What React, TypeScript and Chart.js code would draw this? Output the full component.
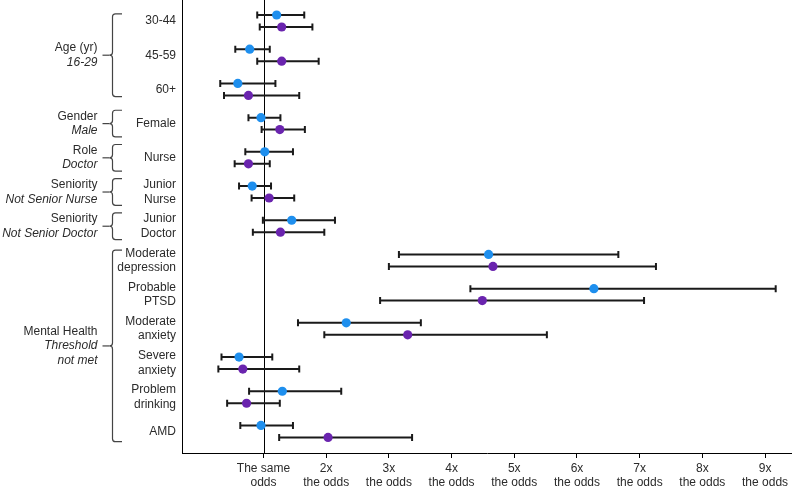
import React, { useEffect, useRef } from "react";
import { Chart, registerables } from "chart.js";

Chart.register(...registerables);

// ---------- data ----------
const categories: string[][] = [
  ["30-44"],
  ["45-59"],
  ["60+"],
  ["Female"],
  ["Nurse"],
  ["Junior", "Nurse"],
  ["Junior", "Doctor"],
  ["Moderate", "depression"],
  ["Probable", "PTSD"],
  ["Moderate", "anxiety"],
  ["Severe", "anxiety"],
  ["Problem", "drinking"],
  ["AMD"],
];

const blueEst = [1.21, 0.78, 0.59, 0.96, 1.02, 0.82, 1.45, 4.59, 6.27, 2.32, 0.61, 1.3, 0.96];
const blueLow = [0.9, 0.55, 0.31, 0.76, 0.71, 0.61, 0.99, 3.16, 4.3, 1.55, 0.33, 0.77, 0.63];
const blueHigh = [1.65, 1.1, 1.19, 1.27, 1.47, 1.12, 2.14, 6.66, 9.17, 3.51, 1.14, 2.24, 1.47];

const purpleEst = [1.29, 1.29, 0.76, 1.26, 0.76, 1.09, 1.27, 4.66, 4.49, 3.3, 0.67, 0.73, 2.03];
const purpleLow = [0.94, 0.9, 0.37, 0.97, 0.54, 0.81, 0.83, 3.0, 2.86, 1.97, 0.28, 0.42, 1.25];
const purpleHigh = [1.78, 1.88, 1.57, 1.66, 1.1, 1.49, 1.97, 7.26, 7.07, 5.52, 1.57, 1.26, 3.37];

const xTickValues = [1, 2, 3, 4, 5, 6, 7, 8, 9];
const xTickLabels: string[][] = [
  ["The same", "odds"],
  ["2x", "the odds"],
  ["3x", "the odds"],
  ["4x", "the odds"],
  ["5x", "the odds"],
  ["6x", "the odds"],
  ["7x", "the odds"],
  ["8x", "the odds"],
  ["9x", "the odds"],
];

const groupNames = ["Age (yr)", "Gender", "Role", "Seniority", "Seniority", "Mental Health"];
const groupRefs: string[][] = [
  ["16-29"],
  ["Male"],
  ["Doctor"],
  ["Not Senior Nurse"],
  ["Not Senior Doctor"],
  ["Threshold", "not met"],
];
const groupStart = [0, 3, 4, 5, 6, 7];
const groupEnd = [2, 3, 4, 5, 6, 12];

// ---------- styles ----------
const BLUE = "#1E8FEE";
const PURPLE = "#6A24AE";
const TEXT = "#2b2b2b";
const FONT = "'Liberation Sans', Arial, Helvetica, sans-serif";
const ROW_OFFSET = 0.175;

const refLinePlugin = {
  id: "refLine",
  beforeDatasetsDraw(chart: any) {
    const { ctx, chartArea, scales } = chart;
    const x = Math.round(scales.x.getPixelForValue(1)) + 0.5;
    ctx.save();
    ctx.strokeStyle = "#000";
    ctx.lineWidth = 1;
    ctx.beginPath();
    ctx.moveTo(x, chartArea.top);
    ctx.lineTo(x, chartArea.bottom);
    ctx.stroke();
    // error bars
    ctx.strokeStyle = "#1a1a1a";
    ctx.lineWidth = 2;
    chart.data.datasets.forEach((ds: any) => {
      ds.data.forEach((pt: any, i: number) => {
        const yy = scales.y.getPixelForValue(pt.y);
        const x0 = scales.x.getPixelForValue(ds.low[i]);
        const x1 = scales.x.getPixelForValue(ds.high[i]);
        ctx.beginPath();
        ctx.moveTo(x0, yy);
        ctx.lineTo(x1, yy);
        ctx.moveTo(x0, yy - 3.5);
        ctx.lineTo(x0, yy + 3.5);
        ctx.moveTo(x1, yy - 3.5);
        ctx.lineTo(x1, yy + 3.5);
        ctx.stroke();
      });
    });
    ctx.restore();
  },
};

const bracePlugin = {
  id: "braces",
  afterDraw(chart: any) {
    const { ctx, scales } = chart;
    const y = scales.y;
    ctx.save();
    for (let g = 0; g < groupNames.length; g++) {
      const count = groupEnd[g] - groupStart[g] + 1;
      const pad = count === 1 ? 0.39 : count > 3 ? 0.3 : 0.21;
      const top = y.getPixelForValue(groupStart[g] - pad);
      const bot = y.getPixelForValue(groupEnd[g] + pad);
      const mid = (y.getPixelForValue(groupStart[g]) + y.getPixelForValue(groupEnd[g])) / 2;
      const bx = 112.5;
      const armX = 122;
      const r = 3;
      ctx.strokeStyle = "#444";
      ctx.lineWidth = 1.2;
      ctx.beginPath();
      ctx.moveTo(armX, top);
      ctx.lineTo(bx + r, top);
      ctx.quadraticCurveTo(bx, top, bx, top + r);
      ctx.lineTo(bx, mid - r);
      ctx.quadraticCurveTo(bx, mid, bx - r, mid);
      ctx.quadraticCurveTo(bx, mid, bx, mid + r);
      ctx.lineTo(bx, bot - r);
      ctx.quadraticCurveTo(bx, bot, bx + r, bot);
      ctx.lineTo(armX, bot);
      ctx.stroke();
      ctx.beginPath();
      ctx.moveTo(102.5, mid);
      ctx.lineTo(bx - r, mid);
      ctx.stroke();

      const lines = [groupNames[g], ...groupRefs[g]];
      const n = lines.length;
      const lh = 14.5;
      ctx.fillStyle = TEXT;
      ctx.textAlign = "right";
      ctx.textBaseline = "middle";
      lines.forEach((t, j) => {
        ctx.font = (j > 0 ? "italic " : "") + "12px " + FONT;
        ctx.fillText(t, 97.5, mid + (j - (n - 1) / 2) * lh);
      });
    }
    ctx.restore();
  },
};

export default function App() {
  const ref = useRef<HTMLCanvasElement | null>(null);

  useEffect(() => {
    if (!ref.current) return;
    const blueData = blueEst.map((v, i) => ({ x: v, y: i - ROW_OFFSET }));
    const purpleData = purpleEst.map((v, i) => ({ x: v, y: i + ROW_OFFSET }));
    const chart = new Chart(ref.current, {
      type: "scatter",
      data: {
        datasets: [
          {
            label: "Blue",
            data: blueData,
            low: blueLow,
            high: blueHigh,
            backgroundColor: BLUE,
            borderWidth: 0,
            pointRadius: 4.6,
            pointHoverRadius: 4.6,
          } as any,
          {
            label: "Purple",
            data: purpleData,
            low: purpleLow,
            high: purpleHigh,
            backgroundColor: PURPLE,
            borderWidth: 0,
            pointRadius: 4.6,
            pointHoverRadius: 4.6,
          } as any,
        ],
      },
      options: {
        animation: false,
        responsive: false,
        devicePixelRatio: 1,
        layout: { padding: 0, autoPadding: false },
        plugins: {
          legend: { display: false },
          tooltip: { enabled: false },
        },
        scales: {
          x: {
            type: "linear",
            min: -0.3,
            max: 9.43,
            afterBuildTicks: (s: any) => {
              s.ticks = xTickValues.map((v) => ({ value: v }));
            },
            afterFit: (s: any) => {
              s.height = 39;
              s.paddingLeft = 0;
              s.paddingRight = 0;
            },
            grid: {
              drawOnChartArea: false,
              drawTicks: true,
              tickLength: 5,
              color: "#000",
            },
            border: { display: true, color: "#000", width: 1 },
            ticks: {
              autoSkip: false,
              maxRotation: 0,
              padding: 3,
              color: TEXT,
              font: { family: FONT, size: 12, lineHeight: 1.2 },
              callback: (v: any) => {
                const idx = xTickValues.indexOf(Number(v));
                return idx >= 0 ? xTickLabels[idx] : "";
              },
            },
          },
          y: {
            type: "linear",
            reverse: true,
            min: -0.614,
            max: 12.63,
            afterBuildTicks: (s: any) => {
              s.ticks = categories.map((_, i) => ({ value: i }));
            },
            afterFit: (s: any) => {
              s.width = 182;
              s.paddingTop = 0;
              s.paddingBottom = 0;
            },
            grid: { display: false, drawTicks: false },
            border: { display: true, color: "#000", width: 1 },
            ticks: {
              autoSkip: false,
              padding: 6,
              color: TEXT,
              font: { family: FONT, size: 12, lineHeight: 1.2 },
              callback: (v: any) => categories[Number(v)] ?? "",
            },
          },
        },
      },
      plugins: [refLinePlugin, bracePlugin],
    });
    return () => chart.destroy();
  }, []);

  return (
    <div style={{ position: "fixed", left: 0, top: 0, width: 792, height: 492, background: "#fff" }}>
      <canvas ref={ref} width={792} height={492} style={{ display: "block" }} />
    </div>
  );
}
